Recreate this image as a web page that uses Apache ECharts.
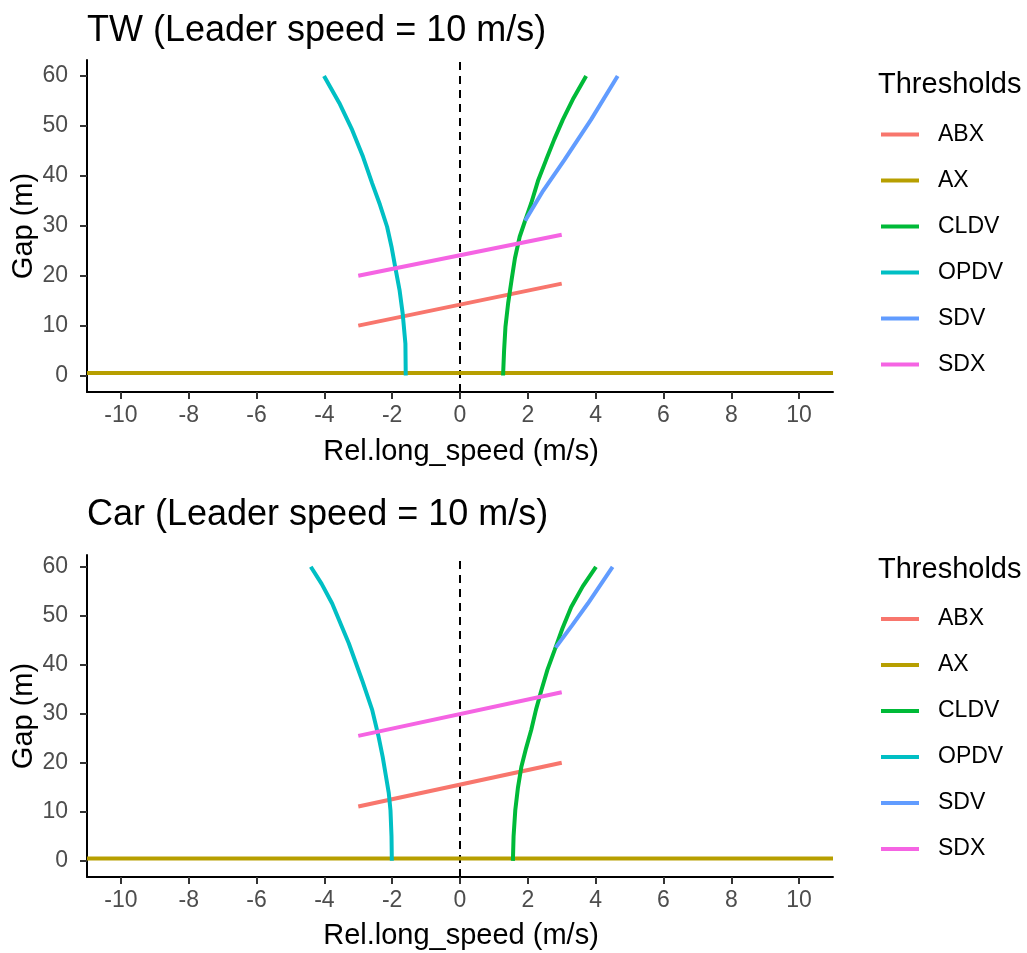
<!DOCTYPE html>
<html><head><meta charset="utf-8">
<script src="https://cdn.jsdelivr.net/npm/echarts@6/dist/echarts.min.js"></script>
<style>html,body{margin:0;padding:0;background:#fff}#c{width:1027px;height:953px}</style>
</head><body><div id="c"></div>
<script>
const seriesNames = ['ABX', 'AX', 'CLDV', 'OPDV', 'SDV', 'SDX'];
const colors = ['#F8766D', '#B79F00', '#00BA38', '#00BFC4', '#619CFF', '#F564E3'];
const xTicks = [-10, -8, -6, -4, -2, 0, 2, 4, 6, 8, 10];
const yTicks = [0, 10, 20, 30, 40, 50, 60];

// TW panel (Leader speed = 10 m/s)
const twAbxX = [-3, 3];
const twAbxY = [10.0, 18.4];
const twAxX = [-11, 11];
const twAxY = [0.5, 0.5];
const twCldvX = [1.27, 1.30, 1.34, 1.42, 1.52, 1.62, 1.76, 1.92, 2.10, 2.30, 2.54, 2.78, 3.03, 3.35, 3.72];
const twCldvY = [0, 5, 9.7, 14.5, 19.1, 23.5, 27.8, 31.0, 34.5, 39.0, 43.2, 47.3, 51.2, 55.6, 60];
const twOpdvX = [-1.60, -1.61, -1.69, -1.78, -1.91, -2.02, -2.15, -2.36, -2.59, -2.86, -3.18, -3.56, -4.01];
const twOpdvY = [0, 6.4, 12.4, 17.0, 21.7, 25.8, 29.8, 34.2, 38.5, 43.8, 49.2, 54.6, 60];
const twSdvX = [1.92, 2.45, 3.08, 3.86, 4.65];
const twSdvY = [31.0, 37.0, 43.2, 51.2, 60];
const twSdxX = [-3, 3];
const twSdxY = [20.0, 28.2];

// Car panel (Leader speed = 10 m/s)
const carAbxX = [-3, 3];
const carAbxY = [11.1, 20.0];
const carAxX = [-11, 11];
const carAxY = [0.5, 0.5];
const carCldvX = [1.56, 1.58, 1.63, 1.71, 1.81, 1.95, 2.10, 2.24, 2.40, 2.58, 2.79, 3.02, 3.28, 3.62, 4.01];
const carCldvY = [0, 5, 10.3, 15.0, 19.2, 23.0, 26.7, 30.8, 34.8, 39.0, 43.0, 47.4, 51.8, 56.0, 60];
const carOpdvX = [-2.01, -2.02, -2.05, -2.10, -2.18, -2.28, -2.40, -2.59, -2.89, -3.28, -3.77, -4.08, -4.40];
const carOpdvY = [0, 5, 10.3, 13.8, 17.1, 21.2, 25.3, 30.8, 36.9, 44.4, 52.5, 56.5, 60];
const carSdvX = [2.82, 3.30, 3.77, 4.50];
const carSdvY = [43.5, 48.0, 52.5, 60];
const carSdxX = [-3, 3];
const carSdxY = [25.5, 34.4];

const FONT = "'Liberation Sans', Arial, sans-serif";
const zip = (xs, ys) => xs.map((x, i) => [x, ys[i]]);

const panels = [
  { title: 'TW (Leader speed = 10 m/s)', grid: { left: 87, top: 60, width: 746, height: 332 }, yMax: 63.2,
    data: [zip(twAbxX, twAbxY), zip(twAxX, twAxY), zip(twCldvX, twCldvY), zip(twOpdvX, twOpdvY), zip(twSdvX, twSdvY), zip(twSdxX, twSdxY)],
    titleY: 31, xTitleY: 452, legendTitleY: 85, legendTop: 119.5 },
  { title: 'Car (Leader speed = 10 m/s)', grid: { left: 87, top: 555, width: 746, height: 322 }, yMax: 62.4,
    data: [zip(carAbxX, carAbxY), zip(carAxX, carAxY), zip(carCldvX, carCldvY), zip(carOpdvX, carOpdvY), zip(carSdvX, carSdvY), zip(carSdxX, carSdxY)],
    titleY: 515, xTitleY: 936, legendTitleY: 570, legendTop: 604 }
];

const grids = [], xAxes = [], yAxes = [], series = [], legends = [], graphics = [];
panels.forEach((p, pi) => {
  grids.push(p.grid);
  xAxes.push({
    type: 'value', gridIndex: pi, min: -11, max: 11,
    axisLine: { show: true, onZero: false, lineStyle: { color: '#000', width: 2 } },
    axisTick: { show: true, length: 7, lineStyle: { color: '#333', width: 2 }, customValues: xTicks },
    axisLabel: { customValues: xTicks, fontSize: 23, color: '#4D4D4D', margin: 12, fontFamily: FONT },
    splitLine: { show: false }
  });
  yAxes.push({
    type: 'value', gridIndex: pi, min: -3.3, max: p.yMax,
    axisLine: { show: true, onZero: false, lineStyle: { color: '#000', width: 2 } },
    axisTick: { show: true, length: 7, lineStyle: { color: '#333', width: 2 }, customValues: yTicks },
    axisLabel: { customValues: yTicks, fontSize: 23, color: '#4D4D4D', margin: 19, fontFamily: FONT },
    splitLine: { show: false }
  });
  seriesNames.forEach((name, si) => {
    const s = {
      name: name, type: 'line', xAxisIndex: pi, yAxisIndex: pi,
      data: p.data[si], showSymbol: false, symbol: 'none', clip: true,
      lineStyle: { color: colors[si], width: 4 },
      itemStyle: { color: colors[si] },
      emphasis: { disabled: true }, z: 3 + si, animation: false
    };
    if (si === 0) {
      s.markLine = {
        silent: true, symbol: 'none', label: { show: false },
        lineStyle: { color: '#000', width: 2, type: [8, 6] },
        data: [{ xAxis: 0 }], z: 2
      };
    }
    series.push(s);
  });
  legends.push({
    data: seriesNames, orient: 'vertical', left: 881, top: p.legendTop, padding: 0,
    icon: 'rect', itemWidth: 38, itemHeight: 4, itemGap: 16,
    textStyle: { fontSize: 23, color: '#000', fontFamily: FONT, lineHeight: 24, padding: [6, 0, 0, 14] },
    selectedMode: false
  });
  graphics.push({ type: 'text', x: 87, y: p.titleY, style: { text: p.title, font: `36px ${FONT}`, fill: '#000', verticalAlign: 'middle' } });
  graphics.push({ type: 'text', x: 878, y: p.legendTitleY, style: { text: 'Thresholds', font: `29px ${FONT}`, fill: '#000', verticalAlign: 'middle' } });
  graphics.push({ type: 'text', x: 461, y: p.xTitleY, style: { text: 'Rel.long_speed (m/s)', font: `29px ${FONT}`, fill: '#000', align: 'center', verticalAlign: 'middle' } });
  graphics.push({ type: 'text', x: 24, y: p.grid.top + p.grid.height / 2, rotation: Math.PI / 2, style: { text: 'Gap (m)', font: `29px ${FONT}`, fill: '#000', align: 'center', verticalAlign: 'middle' } });
});

const chart = echarts.init(document.getElementById('c'), null, { renderer: 'canvas' });
chart.setOption({
  backgroundColor: '#fff', animation: false,
  grid: grids, xAxis: xAxes, yAxis: yAxes, series: series, legend: legends, graphic: graphics
});
</script></body></html>
